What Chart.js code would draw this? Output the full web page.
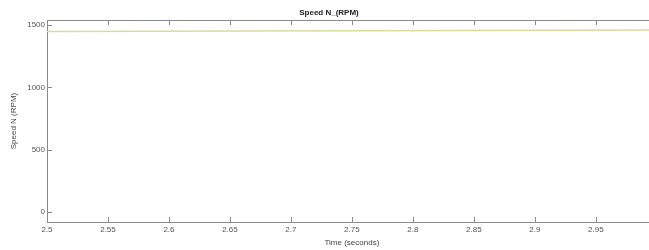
<!DOCTYPE html>
<html>
<head>
<meta charset="utf-8">
<script src="https://cdn.jsdelivr.net/npm/chart.js@4/dist/chart.umd.min.js"></script>
<style>
    html, body { margin: 0; padding: 0; background: #fff; overflow: hidden; }
    #box { width: 662px; height: 250px; }
</style>
</head>
<body>
<div id="box"><canvas id="speedChart"></canvas></div>
<script>
"use strict"

// data
let times = [2.5, 2.75, 3.0] // seconds
let speed = [1447, 1453, 1460] // RPM
let xTicks = [2.5, 2.55, 2.6, 2.65, 2.7, 2.75, 2.8, 2.85, 2.9, 2.95, 3.0]
let yTicks = [0, 500, 1000, 1500]

let points = []
for (let i = 0; i < times.length; i++) {
    points.push({ x: times[i], y: speed[i] })
}

let axisGray = "#8a8a8a"

// MATLAB style: box on top, ticks pointing inward
let innerTicks = {
    id: "innerTicks",
    afterDraw(chart) {
        let ctx = chart.ctx
        let area = chart.chartArea
        let x = chart.scales.x
        let y = chart.scales.y
        ctx.save()
        ctx.strokeStyle = axisGray
        ctx.lineWidth = 1
        ctx.beginPath()
        ctx.moveTo(area.left, area.top + 0.5)
        ctx.lineTo(area.right, area.top + 0.5)
        for (let t of xTicks) {
            let px = Math.round(x.getPixelForValue(t)) + 0.5
            ctx.moveTo(px, area.bottom)
            ctx.lineTo(px, area.bottom - 5)
            ctx.moveTo(px, area.top)
            ctx.lineTo(px, area.top + 5)
        }
        for (let t of yTicks) {
            let py = Math.round(y.getPixelForValue(t)) + 0.5
            ctx.moveTo(area.left, py)
            ctx.lineTo(area.left + 5, py)
        }
        ctx.stroke()
        ctx.restore()
    }
}

new Chart(document.getElementById("speedChart"), {
    type: "line",
    data: {
        datasets: [{
            data: points,
            borderColor: "#d9dc9e",
            borderWidth: 1.5,
            pointRadius: 0,
            tension: 0
        }]
    },
    options: {
        responsive: true,
        maintainAspectRatio: false,
        animation: false,
        layout: { padding: { left: 0, right: 4, top: 0, bottom: 0 } },
        plugins: {
            legend: { display: false },
            tooltip: { enabled: false },
            title: {
                display: true,
                text: "Speed N_(RPM)",
                color: "#222",
                font: { family: "Liberation Sans, Arial", size: 8, weight: "bold" },
                padding: { top: 8, bottom: 2.4 }
            }
        },
        scales: {
            x: {
                type: "linear",
                min: 2.5,
                max: 3.0,
                afterBuildTicks: (scale) => { scale.ticks = xTicks.map(v => ({ value: v })) },
                afterFit: (scale) => { scale.height = 28 },
                grid: { display: true, drawOnChartArea: false, drawTicks: false },
                border: { display: true, color: axisGray, width: 1 },
                ticks: {
                    padding: 3,
                    color: "#555",
                    font: { family: "Liberation Sans, Arial", size: 8 },
                    maxRotation: 0,
                    autoSkip: false,
                    callback: (v) => String(Number(v.toFixed(2)))
                },
                title: {
                    display: true,
                    text: "Time (seconds)",
                    color: "#444",
                    font: { family: "Liberation Sans, Arial", size: 8 },
                    padding: { top: 0, bottom: 2 }
                }
            },
            y: {
                min: -80,
                max: 1540,
                afterBuildTicks: (scale) => { scale.ticks = yTicks.map(v => ({ value: v })) },
                afterFit: (scale) => { scale.width = 47 },
                grid: { display: true, drawOnChartArea: false, drawTicks: false },
                border: { display: true, color: axisGray, width: 1 },
                ticks: {
                    padding: 2,
                    color: "#555",
                    font: { family: "Liberation Sans, Arial", size: 8 },
                    callback: (v) => String(v)
                },
                title: {
                    display: true,
                    text: "Speed N (RPM)",
                    color: "#444",
                    font: { family: "Liberation Sans, Arial", size: 8 },
                    padding: { top: 9, bottom: 0 }
                }
            }
        }
    },
    plugins: [innerTicks]
})
</script>
</body>
</html>
